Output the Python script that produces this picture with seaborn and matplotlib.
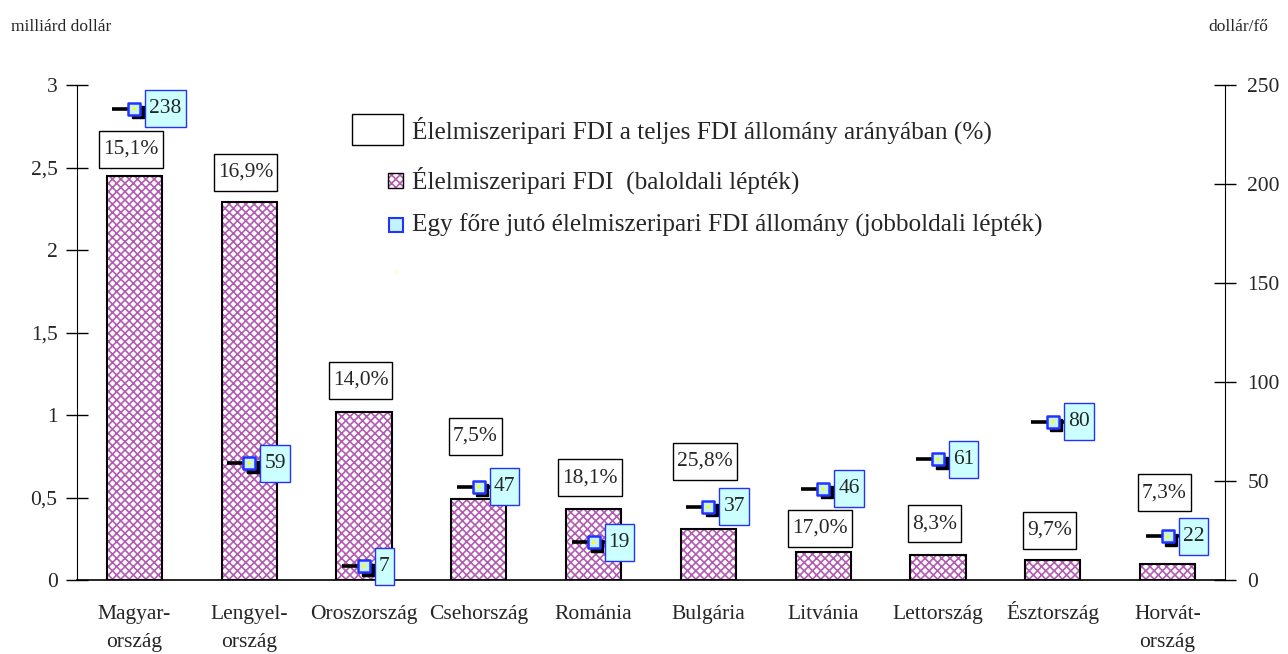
import numpy as np
import pandas as pd
import matplotlib
matplotlib.use("Agg")
import matplotlib.pyplot as plt
import matplotlib.patches as mpatches
from matplotlib.path import Path
from matplotlib import transforms
import seaborn as sns

# ---------------- data ----------------
categories = ["Magyar-\nország", "Lengyel-\nország", "Oroszország", "Csehország",
              "Románia", "Bulgária", "Litvánia", "Lettország", "Észtország",
              "Horvát-\nország"]
fdi_bn = [2.45, 2.29, 1.02, 0.49, 0.43, 0.31, 0.17, 0.15, 0.12, 0.10]
per_capita = [238, 59, 7, 47, 19, 37, 46, 61, 80, 22]
share_labels = ["15,1%", "16,9%", "14,0%", "7,5%", "18,1%", "25,8%",
                "17,0%", "8,3%", "9,7%", "7,3%"]
left_ticks = [0, 0.5, 1, 1.5, 2, 2.5, 3]
left_tick_labels = ["0", "0,5", "1", "1,5", "2", "2,5", "3"]
right_ticks = [0, 50, 100, 150, 200, 250]
legend_labels = ["Élelmiszeripari FDI a teljes FDI állomány arányában (%)",
                 "Élelmiszeripari FDI  (baloldali lépték)",
                 "Egy főre jutó élelmiszeripari FDI állomány (jobboldali lépték)"]

# layout only: vertical placement of the share label boxes (left-axis units)
share_label_y = [2.61, 2.47, 1.21, 0.87, 0.62, 0.72, 0.315, 0.34, 0.30, 0.53]

# ---------------- style ----------------
sns.set_theme(style="white")
plt.rcParams["font.family"] = ["Liberation Serif", "DejaVu Serif"]
plt.rcParams["hatch.linewidth"] = 1.2
FS = 15.5
FS_LEG = 18.2
PINK = "#b25cb2"
CYAN = "#ccffff"
BLUE = "#2233ff"

W, H = 1288, 654
fig = plt.figure(figsize=(W / 100, H / 100), dpi=100)
ax = fig.add_axes([77 / W, 1 - 580 / H, (1225 - 77) / W, (580 - 85) / H])

df = pd.DataFrame({"cat": categories, "fdi": fdi_bn})
sns.barplot(data=df, x="cat", y="fdi", ax=ax, color="white", width=0.48,
            edgecolor=PINK, linewidth=0, saturation=1)
for p in list(ax.patches):
    p.set_hatch("xxxx")
    p.set_facecolor("white")
    p.set_edgecolor(PINK)
    p.set_linewidth(0)
    outline = mpatches.Rectangle(p.get_xy(), p.get_width(), p.get_height(),
                                 fill=False, edgecolor="black", linewidth=1.5,
                                 zorder=p.get_zorder() + 0.1)
    ax.add_patch(outline)

ax.set_xlim(-0.5, len(categories) - 0.5)
ax.set_ylim(0, 3)
ax.set_xlabel("")
ax.set_ylabel("")
ax.set_yticks(left_ticks)
ax.set_yticklabels(left_tick_labels, fontsize=FS)
ax.set_xticks(range(len(categories)))
ax.set_xticklabels([])
ax.set_xticks(np.arange(-0.5, len(categories), 1.0), minor=True)
ax.tick_params(axis="x", which="major", length=0)
ax.tick_params(axis="x", which="minor", direction="inout", length=14, width=1, color="black")
ax.tick_params(axis="y", direction="inout", length=16, width=1, color="black", pad=6, left=True)
for s in ["top", "right"]:
    ax.spines[s].set_visible(False)
ax.spines["left"].set_color("black")
ax.spines["left"].set_linewidth(0.8)
ax.spines["bottom"].set_color("black")
ax.spines["bottom"].set_linewidth(1.2)
ax.grid(False)

# category names: first line baseline aligned for all labels
for i, lab in enumerate(categories):
    nl = lab.count("\n")
    ax.annotate(lab, xy=(i, 0), xycoords=("data", "axes fraction"),
                xytext=(0, -39 - 28 * nl), textcoords="offset pixels",
                ha="center", va="baseline", fontsize=FS, linespacing=1.63,
                annotation_clip=False)


def make_box(hpad, vpad):
    def box(x0, y0, width, height, mutation_size):
        xa, xb = x0 - hpad, x0 + width + hpad
        ya, yb = y0 - vpad, y0 + height + vpad
        return Path([(xa, ya), (xb, ya), (xb, yb), (xa, yb), (xa, ya)], closed=True)
    return box


# share labels
for i, (lab, yy) in enumerate(zip(share_labels, share_label_y)):
    ax.text(i - 0.03, yy, lab, ha="center", va="center", fontsize=FS, zorder=5,
            bbox=dict(boxstyle=make_box(4, 9), facecolor="white",
                      edgecolor="black", linewidth=1.0))

# right axis: per-capita stock
ax2 = ax.twinx()
ax2.set_ylim(0, 250)
ax2.set_yticks(right_ticks)
ax2.set_yticklabels([str(t) for t in right_ticks], fontsize=FS)
ax2.tick_params(axis="y", direction="inout", length=16, width=1, color="black", pad=8, right=True)
for s in ["top", "left", "bottom"]:
    ax2.spines[s].set_visible(False)
ax2.spines["right"].set_color("black")
ax2.spines["right"].set_linewidth(0.8)
ax2.grid(False)
ax2.set_xlim(-0.5, len(categories) - 0.5)

xs = np.arange(len(categories))
# black connector line through the marker (from 22 px left to 11 px right)
conn = Path([(-22, 0), (11, 0)])
ax2.plot(xs, per_capita, linestyle="none", marker=conn, markersize=31.7,
         markeredgewidth=2.6, color="black", zorder=3)
# shadow
shadow_tr = transforms.offset_copy(ax2.transData, fig=fig, x=3.5, y=-3.5, units="dots")
ax2.plot(xs, per_capita, linestyle="none", marker="s", markersize=9.0,
         markerfacecolor="black", markeredgecolor="black", transform=shadow_tr, zorder=3.5)
sns.scatterplot(x=xs, y=per_capita, ax=ax2, marker="s", s=85, color="#c4f2ff",
                edgecolor=BLUE, linewidth=1.8, zorder=4, legend=False)
sns.scatterplot(x=xs, y=per_capita, ax=ax2, marker="o", s=6, color="#ffff00",
                edgecolor="none", linewidth=0, zorder=4.5, legend=False)
for i, v in enumerate(per_capita):
    ax2.annotate(str(v), (i, v), xytext=(15, 0), textcoords="offset pixels",
                 ha="left", va="center", fontsize=FS, zorder=6,
                 bbox=dict(boxstyle=make_box(4, 9), facecolor=CYAN,
                           edgecolor=BLUE, linewidth=1.0))

# ---------------- legend (figure pixel coordinates) ----------------
def fx(px):
    return px / W


def fy(py):
    return 1 - py / H


fig.patches.append(mpatches.Rectangle((fx(352), fy(145)), fx(51), 31 / H, transform=fig.transFigure,
                                      facecolor="white", edgecolor="black", linewidth=1.0))
fig.patches.append(mpatches.Rectangle((fx(388), fy(188)), fx(15), 15 / H, transform=fig.transFigure,
                                      facecolor="white", edgecolor=PINK, linewidth=0, hatch="xxxx"))
fig.patches.append(mpatches.Rectangle((fx(388), fy(188)), fx(15), 15 / H, transform=fig.transFigure,
                                      fill=False, edgecolor="black", linewidth=1.0))
fig.patches.append(mpatches.Rectangle((fx(389), fy(232)), fx(14), 14 / H, transform=fig.transFigure,
                                      facecolor="#c4f2ff", edgecolor=BLUE, linewidth=1.5))
for lab, py in zip(legend_labels, [130, 180, 225]):
    fig.text(fx(412), fy(py), lab, ha="left", va="center", fontsize=FS_LEG)

# stray dot
fig.patches.append(mpatches.Circle((fx(397), fy(272)), 1.2 / W, transform=fig.transFigure,
                                   facecolor="#ffff00", edgecolor="none"))

# axis unit titles
fig.text(fx(11), fy(27), "milliárd dollár", ha="left", va="center", fontsize=12.5)
fig.text(fx(1268), fy(27), "dollár/fő", ha="right", va="center", fontsize=12.5)

fig.savefig("out.png", dpi=100)
